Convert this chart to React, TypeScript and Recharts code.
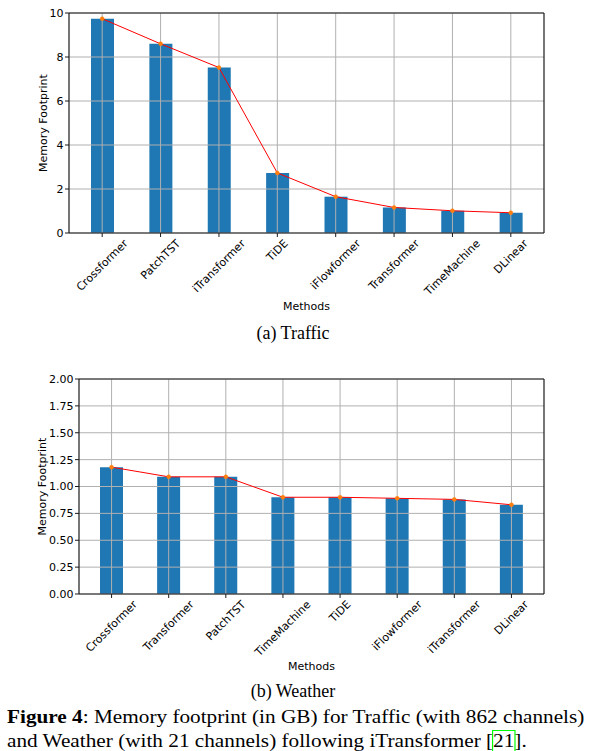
import React from "react";
import { ComposedChart, Bar, Line, XAxis, YAxis, ReferenceLine } from "recharts";

// (a) Traffic
const trafficMethods = [
  "Crossformer",
  "PatchTST",
  "iTransformer",
  "TiDE",
  "iFlowformer",
  "Transformer",
  "TimeMachine",
  "DLinear",
];
const trafficMemory = [9.74, 8.6, 7.52, 2.73, 1.65, 1.16, 1.01, 0.92];
const trafficTicks = [0, 2, 4, 6, 8, 10];

// (b) Weather
const weatherMethods = [
  "Crossformer",
  "Transformer",
  "PatchTST",
  "TimeMachine",
  "TiDE",
  "iFlowformer",
  "iTransformer",
  "DLinear",
];
const weatherMemory = [1.18, 1.09, 1.09, 0.9, 0.9, 0.89, 0.88, 0.83];
const weatherTicks = [0, 0.25, 0.5, 0.75, 1, 1.25, 1.5, 1.75, 2];

const BAR_BLUE = "#1f77b4";
const GRID = "#b0b0b0";
const SPINE = "#1a1a1a";
const FONT = "DejaVu Sans, sans-serif";
const TICK_FONT_SIZE = 11;

let measureCtx: CanvasRenderingContext2D | null = null;
function textWidth(s: string): number {
  if (!measureCtx) {
    measureCtx = document.createElement("canvas").getContext("2d");
  }
  if (!measureCtx) return s.length * TICK_FONT_SIZE * 0.6;
  measureCtx.font = `${TICK_FONT_SIZE}px "DejaVu Sans"`;
  return measureCtx.measureText(s).width;
}

// matplotlib style rotation=45, ha="center": label box centred under the tick
function RotatedTick(props: any) {
  const { x, y, payload } = props;
  const label = String(payload.value);
  const w = textWidth(label);
  const h = TICK_FONT_SIZE * 0.95;
  const half = (w + h) / (2 * Math.SQRT2);
  const cy = y + half - 1;
  return (
    <text
      x={x}
      y={cy}
      transform={`rotate(-45, ${x}, ${cy})`}
      textAnchor="middle"
      dominantBaseline="central"
      fontSize={TICK_FONT_SIZE}
      fontFamily={FONT}
      fill="#000"
    >
      {label}
    </text>
  );
}

interface PanelProps {
  methods: string[];
  values: number[];
  ticks: number[];
  top: number;
  marginTop: number;
  xAxisHeight: number;
  yAxisWidth: number;
  labelDx: number;
  digits: number;
}

function MemoryPanel({
  methods,
  values,
  ticks,
  top,
  marginTop,
  xAxisHeight,
  yAxisWidth,
  labelDx,
  digits,
}: PanelProps) {
  const data = methods.map((m, i) => ({ method: m, memory: values[i] }));
  const yMax = ticks[ticks.length - 1];

  return (
    <div style={{ position: "absolute", left: 0, top, width: 604, height: 320 }}>
      <ComposedChart
        width={604}
        height={320}
        data={data}
        margin={{ top: marginTop - 1, right: 59, bottom: 0, left: 29 }}
      >
        <XAxis
          dataKey="method"
          height={xAxisHeight}
          padding={{ left: 4, right: 4 }}
          interval={0}
          tick={<RotatedTick />}
          tickSize={4}
          tickMargin={2}
          tickLine={{ stroke: SPINE }}
          axisLine={{ stroke: SPINE, strokeWidth: 1.2 }}
          label={{
            value: "Methods",
            position: "insideBottom",
            offset: 10,
            style: { fontSize: 11, fontFamily: FONT, fill: "#000" },
          }}
        />
        <XAxis
          xAxisId="top"
          orientation="top"
          dataKey="method"
          height={1}
          padding={{ left: 4, right: 4 }}
          tick={false}
          tickLine={false}
          axisLine={{ stroke: SPINE, strokeWidth: 1.2 }}
        />
        <YAxis
          domain={[0, yMax]}
          ticks={ticks}
          width={yAxisWidth}
          interval={0}
          tickFormatter={(v: number) => v.toFixed(digits)}
          tick={{ fontSize: TICK_FONT_SIZE, fontFamily: FONT, fill: "#000" }}
          tickSize={4}
          tickMargin={1.5}
          tickLine={{ stroke: SPINE }}
          axisLine={{ stroke: SPINE, strokeWidth: 1.2 }}
          label={{
            value: "Memory Footprint",
            angle: -90,
            position: "center",
            dx: labelDx,
            style: { fontSize: 11, fontFamily: FONT, fill: "#000" },
          }}
        />
        <YAxis
          yAxisId="right"
          orientation="right"
          domain={[0, yMax]}
          width={1}
          tick={false}
          tickLine={false}
          axisLine={{ stroke: SPINE, strokeWidth: 1.2 }}
        />
        <Bar dataKey="memory" fill={BAR_BLUE} barSize={23} isAnimationActive={false} />
        {ticks.map((t) => (
          <ReferenceLine key={`y${t}`} y={t} stroke={GRID} strokeWidth={1} />
        ))}
        {methods.map((m) => (
          <ReferenceLine key={`x${m}`} x={m} stroke={GRID} strokeWidth={1} />
        ))}
        <Line
          type="linear"
          dataKey="memory"
          stroke="#ff0000"
          strokeWidth={1}
          dot={{ r: 2, fill: "#ff7f0e", stroke: "#ff7f0e", strokeWidth: 0.5 }}
          activeDot={false}
          isAnimationActive={false}
        />
      </ComposedChart>
    </div>
  );
}

const captionStyle: React.CSSProperties = {
  position: "absolute",
  left: 0,
  width: 586,
  textAlign: "center",
  fontFamily: "Liberation Serif, serif",
  fontSize: 18,
  lineHeight: "20px",
  color: "#000",
};

export default function App() {
  return (
    <div
      style={{
        position: "absolute",
        left: 0,
        top: 0,
        width: 604,
        height: 751,
        background: "#fff",
        overflow: "hidden",
      }}
    >
      <MemoryPanel
        methods={trafficMethods}
        values={trafficMemory}
        ticks={trafficTicks}
        top={0}
        marginTop={13}
        xAxisHeight={87}
        yAxisWidth={40}
        labelDx={-6}
        digits={0}
      />
      <div style={{ ...captionStyle, top: 323 }}>(a) Traffic</div>

      <MemoryPanel
        methods={weatherMethods}
        values={weatherMemory}
        ticks={weatherTicks}
        top={360}
        marginTop={19}
        xAxisHeight={86}
        yAxisWidth={50}
        labelDx={-12}
        digits={2}
      />
      <div style={{ ...captionStyle, top: 681 }}>(b) Weather</div>

      <div
        style={{
          position: "absolute",
          left: 7,
          top: 705,
          fontFamily: "Liberation Serif, serif",
          fontSize: 18,
          lineHeight: "24px",
          color: "#000",
          whiteSpace: "nowrap",
          transform: "scaleX(1.18)",
          transformOrigin: "0 0",
        }}
      >
        <div>
          <b>Figure 4</b>: Memory footprint (in GB) for Traffic (with 862 channels)
        </div>
        <div>
          and Weather (with 21 channels) following iTransformer [
          <span style={{ outline: "1px solid #00ff00" }}>21</span>].
        </div>
      </div>
    </div>
  );
}
